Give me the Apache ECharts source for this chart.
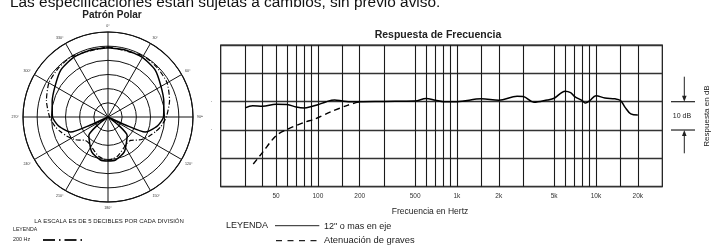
<!DOCTYPE html>
<html><head><meta charset="utf-8">
<script src="https://cdn.jsdelivr.net/npm/echarts@6/dist/echarts.min.js"></script>
<style>html,body{margin:0;padding:0;background:#fff}#c{width:720px;height:247px}</style>
</head><body><div id="c"></div>
<script>
const FONT = 'Liberation Sans, Arial, sans-serif';
// ---- Frequency response data ----
const solidFreq = [30, 34, 40, 50, 60, 70, 80, 90, 100, 115, 132, 150, 165, 200, 300, 500, 600, 700, 800, 1000, 1500, 2000, 2710, 3000, 3580, 4470, 5000, 6000, 6570, 7000, 8000, 8400, 9000, 10000, 11600, 13700, 15000, 16200, 17800, 20000];
const solidDb = [-2.2, -1.4, -1.6, -0.9, -1.0, -1.9, -2.2, -1.7, -1.1, 0, 0.6, 0.2, 0, 0, 0.1, 0.2, 1.1, 0.5, 0, 0, 1.0, 0.5, 1.9, 1.8, -0.2, 0.6, 1.2, 3.7, 3.2, 1.9, 0.3, -0.5, 0.3, 2.1, 1.3, 1.0, 0.4, -2.0, -4.3, -4.7];
const bassFreq = [34.3, 40, 50, 60, 80, 95, 125, 165, 200];
const bassDb = [-22, -17.9, -12, -9.8, -7.3, -6.1, -3.5, -1.2, 0];
const minorGridFreq = [30, 40, 60, 70, 80, 90, 150, 300, 600, 700, 800, 900, 1500, 3000, 6000, 7000, 8000, 9000, 15000];
const labeledFreq = [50, 100, 200, 500, 1000, 2000, 5000, 10000, 20000];
const freqLabels = ['50', '100', '200', '500', '1k', '2k', '5k', '10k', '20k'];
// ---- Polar data ----
const onAxisAngles = [0, 15, 30, 45, 60, 75, 90, 100, 108, 112, 114.5, 117, 124, 128, 134, 155, 170, 180, 190, 205, 226, 232, 236, 243, 245.5, 248, 252, 260, 270, 285, 300, 315, 330, 345, 360];
const onAxisR = [24.4, 24.4, 24.3, 23.5, 21.6, 20.4, 19.6, 17.8, 15.5, 14.2, 7, 0, 0, 5, 9.4, 13.6, 15.4, 15.5, 15.4, 13.6, 9.4, 5, 0, 0, 7, 14.2, 15.5, 17.8, 19.6, 20.4, 21.6, 23.5, 24.3, 24.4, 24.4];
const hz200Angles = [0, 30, 45, 60, 75, 90, 100, 107, 115, 125, 136, 145, 155, 167, 180, 193, 205, 215, 224, 235, 245, 253, 260, 270, 285, 300, 315, 330, 360];
const hz200R = [24.8, 24.9, 24.6, 24.1, 22.5, 20.6, 19, 17.6, 16, 14, 11.5, 11.5, 12.5, 14.3, 15.3, 14.3, 12.5, 11.5, 11.5, 14, 16, 17.6, 19, 20.6, 22.5, 24.1, 24.6, 24.9, 24.8];

const zip = (a, b) => a.map((v, i) => [v, b[i]]);
const polarData = (ang, r) => ang.map((a, i) => [r[i], a]);

const chart = echarts.init(document.getElementById('c'), null, {renderer: 'canvas'});

const gridLines = minorGridFreq.map(f => ({xAxis: f, label: {show: false}}))
  .concat(labeledFreq.map((f, i) => ({xAxis: f, label: {show: true, position: 'start', formatter: freqLabels[i], distance: 6.5, fontSize: 6.5, color: '#333', fontFamily: FONT}})));

chart.setOption({
  animation: false,
  textStyle: {fontFamily: FONT},
  grid: {left: 220.7, right: 57.7, top: 45, bottom: 60.3, show: true, borderColor: '#111', borderWidth: 1.2},
  xAxis: {type: 'log', logBase: 10, min: 20, max: 30000, axisLine: {show: false}, axisTick: {show: false}, axisLabel: {show: false}, splitLine: {show: false}, minorSplitLine: {show: false}},
  yAxis: {type: 'value', min: -30, max: 20, interval: 10, axisLine: {show: false}, axisTick: {show: false}, axisLabel: {show: false}, splitLine: {show: true, lineStyle: {color: '#333', width: 1.3}}},
  polar: {center: [108, 117], radius: 85},
  angleAxis: {type: 'value', min: 0, max: 360, interval: 30, startAngle: 90, clockwise: true,
    axisLine: {show: true, lineStyle: {color: '#111', width: 1.1}}, axisTick: {show: false},
    axisLabel: {show: true, formatter: '{value}°', fontSize: 3.6, margin: 4, color: '#333'},
    splitLine: {show: true, lineStyle: {color: '#111', width: 1}}},
  radiusAxis: {type: 'value', min: 0, max: 30, interval: 5, axisLine: {show: false}, axisTick: {show: false}, axisLabel: {show: false},
    splitLine: {show: true, lineStyle: {color: '#111', width: 1}}},
  title: [
    {text: 'Respuesta de Frecuencia', left: 433, top: 25, textAlign: 'center', textStyle: {fontSize: 10.5, fontWeight: 'bold', color: '#222', fontFamily: FONT}},
    {text: 'Patrón Polar', left: 107, top: 5.5, textAlign: 'center', textStyle: {fontSize: 10, fontWeight: 'bold', color: '#222', fontFamily: FONT}}
  ],
  series: [
    {type: 'line', name: 'grid', data: [], z: 1, silent: true,
      markLine: {silent: true, symbol: ['none', 'none'], z: 1, precision: 5,
        lineStyle: {type: 'solid', color: '#1a1a1a', width: 1.1}, data: gridLines}},
    {type: 'line', name: '12" o mas en eje', data: zip(solidFreq, solidDb), smooth: 0.35, showSymbol: false, z: 4,
      lineStyle: {color: '#000', width: 1.5}},
    {type: 'line', name: 'Atenuación de graves', data: zip(bassFreq, bassDb), smooth: 0.3, showSymbol: false, z: 4,
      lineStyle: {color: '#000', width: 1.4, type: [6, 4]}},
    {type: 'line', coordinateSystem: 'polar', name: 'polar', data: polarData(onAxisAngles, onAxisR), smooth: 0.2, showSymbol: false, z: 4,
      lineStyle: {color: '#000', width: 1.5}},
    {type: 'line', coordinateSystem: 'polar', name: '200 Hz', data: polarData(hz200Angles, hz200R), smooth: 0.2, showSymbol: false, z: 4,
      lineStyle: {color: '#000', width: 1.2, type: [5, 2, 1, 2]}}
  ]
});

const y0 = chart.convertToPixel({gridIndex: 0}, [1000, 0])[1];
const y10 = chart.convertToPixel({gridIndex: 0}, [1000, -10])[1];
const txt = (x, y, s, size, extra) => Object.assign({type: 'text', x: x, y: y, style: Object.assign({text: s, fontSize: size, fontFamily: FONT, fill: '#222', align: 'left', verticalAlign: 'middle'}, extra || {})});
const ln = (x1, y1, x2, y2, w, dash) => ({type: 'line', shape: {x1, y1, x2, y2}, style: {stroke: '#222', lineWidth: w, lineDash: dash || null}});

chart.setOption({graphic: [
  txt(10, 3, 'Las especificaciones están sujetas a cambios, sin previo aviso.', 15.4, {fill: '#111'}),
  // right annotation
  ln(671, y0, 695, y0, 1.2), ln(671, y10, 695, y10, 1.2),
  ln(684.3, 76.7, 684.3, y0 - 5, 1),
  {type: 'polygon', shape: {points: [[682, y0 - 6], [686.6, y0 - 6], [684.3, y0]]}, style: {fill: '#222'}},
  ln(684.3, y10 + 5, 684.3, 153.3, 1),
  {type: 'polygon', shape: {points: [[682, y10 + 6], [686.6, y10 + 6], [684.3, y10]]}, style: {fill: '#222'}},
  txt(682, (y0 + y10) / 2, '10 dB', 7, {align: 'center'}),
  {type: 'text', x: 706.7, y: 116, rotation: Math.PI / 2, style: {text: 'Respuesta en dB', fontSize: 8, fontFamily: FONT, fill: '#222', align: 'center', verticalAlign: 'middle'}},
  txt(211.7, y0 - 1.5, '.', 6, {align: 'center'}), txt(202, 116.7, '-', 6, {align: 'center'}), txt(211.7, y10 - 1.5, '.', 6, {align: 'center'}),
  // freq legend
  txt(430, 211.7, 'Frecuencia en Hertz', 8.5, {align: 'center'}),
  txt(226, 225.7, 'LEYENDA', 9),
  ln(275, 225.7, 319.3, 225.7, 1),
  txt(324, 226.7, '12" o mas en eje', 9),
  ln(276, 240.7, 320, 240.7, 1.2, [6, 5.5]),
  txt(324, 240.7, 'Atenuación de graves', 9.4),
  // polar legend
  txt(109, 221.7, 'LA ESCALA ES DE 5 DECIBLES POR CADA DIVISIÓN', 6, {align: 'center'}),
  txt(13, 230, 'LEYENDA', 5.2),
  txt(13, 240, '200 Hz', 5.4),
  ln(43, 240, 82, 240, 2, [12, 4, 1.5, 4])
]});
</script></body></html>
